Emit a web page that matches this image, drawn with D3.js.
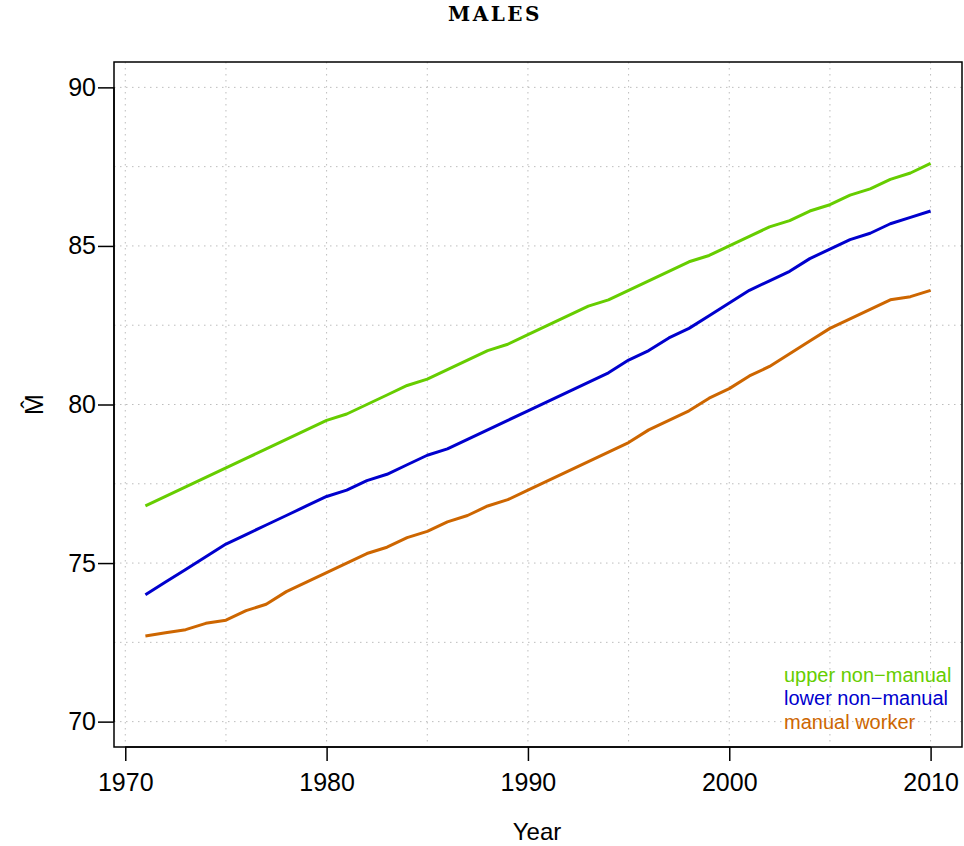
<!DOCTYPE html>
<html>
<head>
<meta charset="utf-8">
<script src="https://cdn.jsdelivr.net/npm/d3@7"></script>
<style>
  body { margin: 0; background: #fff; }
  text { font-family: "Liberation Sans", Arial, sans-serif; }
</style>
</head>
<body>
<div class="container"></div>
<script>
const w = 964;
const h = 846;

const years = d3.range(1971, 2011);
const upperNonManual = [76.8, 77.1, 77.4, 77.7, 78.0, 78.3, 78.6, 78.9, 79.2, 79.5,
  79.7, 80.0, 80.3, 80.6, 80.8, 81.1, 81.4, 81.7, 81.9, 82.2,
  82.5, 82.8, 83.1, 83.3, 83.6, 83.9, 84.2, 84.5, 84.7, 85.0,
  85.3, 85.6, 85.8, 86.1, 86.3, 86.6, 86.8, 87.1, 87.3, 87.6];
const lowerNonManual = [74.0, 74.4, 74.8, 75.2, 75.6, 75.9, 76.2, 76.5, 76.8, 77.1,
  77.3, 77.6, 77.8, 78.1, 78.4, 78.6, 78.9, 79.2, 79.5, 79.8,
  80.1, 80.4, 80.7, 81.0, 81.4, 81.7, 82.1, 82.4, 82.8, 83.2,
  83.6, 83.9, 84.2, 84.6, 84.9, 85.2, 85.4, 85.7, 85.9, 86.1];
const manualWorker = [72.7, 72.8, 72.9, 73.1, 73.2, 73.5, 73.7, 74.1, 74.4, 74.7,
  75.0, 75.3, 75.5, 75.8, 76.0, 76.3, 76.5, 76.8, 77.0, 77.3,
  77.6, 77.9, 78.2, 78.5, 78.8, 79.2, 79.5, 79.8, 80.2, 80.5,
  80.9, 81.2, 81.6, 82.0, 82.4, 82.7, 83.0, 83.3, 83.4, 83.6];

const seriesNames = ["upper non\u2212manual", "lower non\u2212manual", "manual worker"];
const seriesColors = ["#66CD00", "#0000CD", "#CD6600"];
const xTicks = [1970, 1980, 1990, 2000, 2010];
const yTicks = [70, 75, 80, 85, 90];

const pLeft = 114, pRight = 962, pTop = 62, pBottom = 747;

// R style: 4% padding around the data range
const xScale = d3.scaleLinear()
  .domain([1971 - 39 * 0.04, 2010 + 39 * 0.04])
  .range([pLeft, pRight]);
const yScale = d3.scaleLinear()
  .domain([70 - 20 * 0.04, 90 + 20 * 0.04])
  .range([pBottom, pTop]);

const svg = d3.select(".container")
  .append("svg")
  .attr("width", w)
  .attr("height", h);

// grid
svg.append("g")
  .selectAll("line")
  .data(d3.range(1970, 2011, 5))
  .enter()
  .append("line")
  .attr("x1", d => xScale(d)).attr("x2", d => xScale(d))
  .attr("y1", pTop).attr("y2", pBottom)
  .attr("stroke", "#bdbdbd")
  .attr("stroke-dasharray", "1.5,4.5");

svg.append("g")
  .selectAll("line")
  .data(d3.range(70, 90.1, 2.5))
  .enter()
  .append("line")
  .attr("x1", pLeft).attr("x2", pRight)
  .attr("y1", d => yScale(d)).attr("y2", d => yScale(d))
  .attr("stroke", "#bdbdbd")
  .attr("stroke-dasharray", "1.5,4.5");

// lines
const line = d3.line()
  .x((d, i) => xScale(years[i]))
  .y(d => yScale(d));

[upperNonManual, lowerNonManual, manualWorker].forEach((s, i) => {
  svg.append("path")
    .datum(s)
    .attr("d", line)
    .attr("fill", "none")
    .attr("stroke", seriesColors[i])
    .attr("stroke-width", 3)
    .attr("stroke-linejoin", "round");
});

// frame
svg.append("rect")
  .attr("x", pLeft).attr("y", pTop)
  .attr("width", pRight - pLeft).attr("height", pBottom - pTop)
  .attr("fill", "none")
  .attr("stroke", "#000")
  .attr("stroke-width", 1.5);

// axes
const xAxis = d3.axisBottom(xScale).tickValues(xTicks).tickFormat(d3.format("d"))
  .tickSize(14).tickPadding(12);
const gx = svg.append("g")
  .attr("transform", "translate(0," + pBottom + ")")
  .call(xAxis);
gx.select(".domain").attr("d", "M" + xScale(1970) + ",0H" + xScale(2010)).attr("stroke-width", 1.5);
gx.selectAll(".tick line").attr("stroke-width", 1.5);
gx.selectAll("text").attr("font-size", 25).attr("font-family", "Liberation Sans").attr("fill", "#000");

const yAxis = d3.axisLeft(yScale).tickValues(yTicks).tickSize(16).tickPadding(2);
const gy = svg.append("g")
  .attr("transform", "translate(" + pLeft + ",0)")
  .call(yAxis);
gy.select(".domain").attr("d", "M0," + yScale(70) + "V" + yScale(90)).attr("stroke-width", 1.5);
gy.selectAll(".tick line").attr("stroke-width", 1.5);
gy.selectAll("text").attr("font-size", 25).attr("font-family", "Liberation Sans").attr("fill", "#000");

// titles
svg.append("text")
  .attr("x", 495).attr("y", 21)
  .attr("text-anchor", "middle")
  .style("font-family", "'DejaVu Serif', serif")
  .style("font-weight", "bold")
  .style("font-size", "20px")
  .style("letter-spacing", "2.5px")
  .text("MALES");

svg.append("text")
  .attr("x", 537).attr("y", 840)
  .attr("text-anchor", "middle")
  .attr("font-size", 24)
  .text("Year");

svg.append("text")
  .attr("transform", "translate(43," + yScale(80) + ") rotate(-90)")
  .attr("text-anchor", "middle")
  .attr("font-size", 25)
  .text("M\u0302");

// legend
seriesNames.forEach((n, i) => {
  svg.append("text")
    .attr("x", 784).attr("y", 681.5 + i * 23.8)
    .attr("font-size", 20)
    .attr("fill", seriesColors[i])
    .text(n);
});
</script>
</body>
</html>
